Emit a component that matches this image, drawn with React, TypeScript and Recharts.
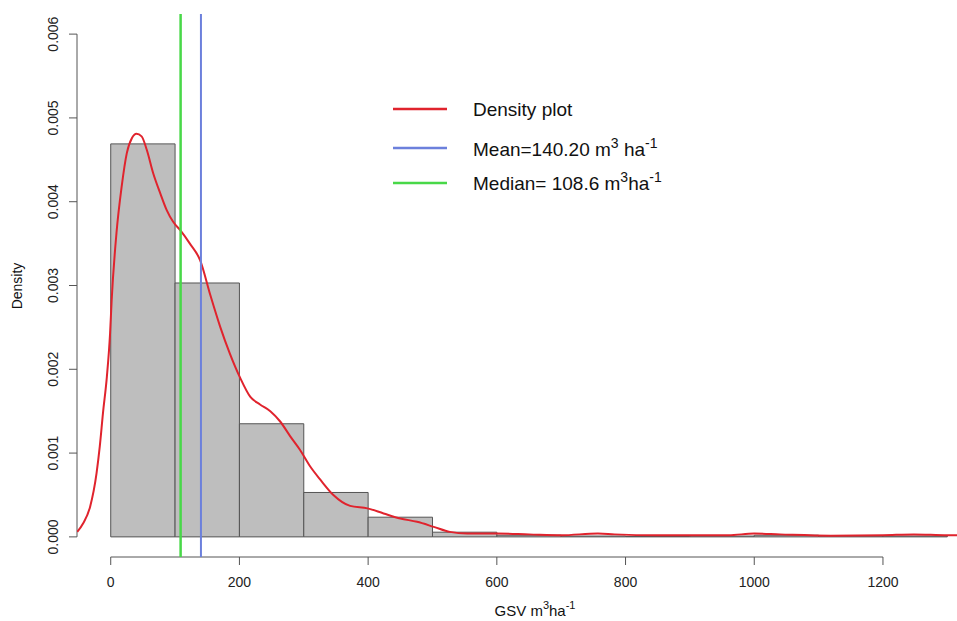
import React from "react";
import {
  ComposedChart,
  Line,
  XAxis,
  YAxis,
  ReferenceArea,
  ReferenceLine,
} from "recharts";

// Histogram of GSV (density scale) with kernel density curve, mean and median lines.

const binStart = [0, 100, 200, 300, 400, 500, 600, 700, 800, 900, 1000, 1100, 1200];
const binWidth = 100;
const binDensity = [
  0.00469, 0.00303, 0.00135, 0.00053, 0.000235, 0.000056, 0.00002, 0.00001, 0.000005,
  0.00001, 0.00002, 0.00001, 0.00001,
];

const densityX = [
  -52, -43, -32, -22, -17, -12, -6, -1, 1.5, 9, 17, 25, 33, 40, 48, 56, 66, 77, 87, 97,
  108, 123, 139, 155, 170, 185, 201, 217, 232, 248, 263, 279, 294, 310, 326, 346, 372,
  399, 424, 450, 476, 502, 527, 554, 600, 650, 700, 757, 783, 850, 915, 960, 1000, 1040,
  1119, 1200, 1248, 1300, 1371,
];
const densityY = [
  0.00006, 0.00016, 0.00036, 0.00076, 0.00108, 0.00148, 0.00191, 0.00243, 0.00283,
  0.00363, 0.00418, 0.00458, 0.00476, 0.00481, 0.00478, 0.00462, 0.00434, 0.0041,
  0.0039, 0.00376, 0.00366, 0.0035, 0.0033, 0.00288, 0.00251, 0.00219, 0.0019, 0.00167,
  0.00158, 0.0015, 0.00138, 0.0012, 0.00104, 0.00084, 0.00068, 0.0005, 0.00037, 0.00034,
  0.00028, 0.00022, 0.00018, 0.00012, 0.00006, 0.00004, 0.00004, 0.00003, 0.00002,
  0.00004, 0.00003, 0.00002, 0.00002, 0.00002, 0.00004, 0.00003, 0.000015, 0.00002,
  0.00003, 0.00002, 0.00002,
];

const meanGSV = 140.2;
const medianGSV = 108.6;

const xTicks = [0, 200, 400, 600, 800, 1000, 1200];
const yTicks = [0, 0.001, 0.002, 0.003, 0.004, 0.005, 0.006];

const X_DOMAIN: [number, number] = [-52.4, 1371];
const Y_DOMAIN: [number, number] = [-0.00024, 0.00624];

const RED = "#e0232d";
const BLUE = "#6c80dc";
const GREEN = "#48d848";
const AXIS = "#555555";
const FONT = "'Liberation Sans', Arial, Helvetica, sans-serif";

const curveData = densityX.map((x, i) => ({ x, y: densityY[i] }));

function YTick(props: any) {
  const { x, y, payload } = props;
  return (
    <text
      x={x}
      y={y}
      transform={`rotate(-90, ${x}, ${y})`}
      textAnchor="middle"
      fontSize={14}
      fontFamily={FONT}
      fill="#222"
    >
      {payload.value.toFixed(3)}
    </text>
  );
}

export default function App() {
  return (
    <div
      style={{
        position: "absolute",
        left: 0,
        top: 0,
        width: 957,
        height: 621,
        overflow: "hidden",
        background: "#fff",
      }}
    >
      <ComposedChart
        width={993}
        height={621}
        data={curveData}
        margin={{ top: 14, right: 0, bottom: 0, left: 0 }}
      >
        <XAxis
          type="number"
          dataKey="x"
          domain={X_DOMAIN}
          ticks={xTicks}
          allowDataOverflow
          height={64}
          axisLine={false}
          tickLine={{ stroke: AXIS }}
          tickSize={8}
          tickMargin={12}
          tick={{ fontSize: 14, fontFamily: FONT, fill: "#222" }}
        />
        <YAxis
          type="number"
          domain={Y_DOMAIN}
          ticks={yTicks}
          allowDataOverflow
          width={77}
          axisLine={false}
          tickLine={{ stroke: AXIS }}
          tickSize={8}
          tickMargin={11}
          tick={<YTick />}
        />
        {binStart.map((b, i) => (
          <ReferenceArea
            key={b}
            x1={b}
            x2={b + binWidth}
            y1={0}
            y2={binDensity[i]}
            fill="#bebebe"
            fillOpacity={1}
            stroke={AXIS}
            strokeWidth={1}
            ifOverflow="visible"
          />
        ))}
        <ReferenceLine
          segment={[{ x: X_DOMAIN[0], y: 0 }, { x: X_DOMAIN[0], y: 0.006 }]}
          stroke={AXIS}
          strokeWidth={1}
          ifOverflow="visible"
        />
        <ReferenceLine
          segment={[{ x: 0, y: Y_DOMAIN[0] }, { x: 1200, y: Y_DOMAIN[0] }]}
          stroke={AXIS}
          strokeWidth={1}
          ifOverflow="visible"
        />
        <Line
          type="monotone"
          dataKey="y"
          stroke={RED}
          strokeWidth={2}
          dot={false}
          activeDot={false}
          isAnimationActive={false}
        />
        <ReferenceLine x={medianGSV} stroke={GREEN} strokeWidth={2.5} />
        <ReferenceLine x={meanGSV} stroke={BLUE} strokeWidth={2} />
      </ComposedChart>

      <svg
        width={957}
        height={621}
        style={{ position: "absolute", left: 0, top: 0, pointerEvents: "none" }}
        fontFamily={FONT}
      >
        {/* legend */}
        <line x1={393} x2={447} y1={109} y2={109} stroke={RED} strokeWidth={2.5} />
        <line x1={393} x2={447} y1={148} y2={148} stroke={BLUE} strokeWidth={2.5} />
        <line x1={393} x2={447} y1={183} y2={183} stroke={GREEN} strokeWidth={2.5} />
        <text x={473} y={116} fontSize={19} fill="#111">
          Density plot
        </text>
        <text x={473} y={156} fontSize={19} fill="#111">
          Mean=140.20 m
          <tspan fontSize={14} dy={-8}>3</tspan>
          <tspan dy={8}> ha</tspan>
          <tspan fontSize={14} dy={-8}>-1</tspan>
        </text>
        <text x={473} y={190} fontSize={19} fill="#111">
          Median= 108.6 m
          <tspan fontSize={14} dy={-8}>3</tspan>
          <tspan dy={8}>ha</tspan>
          <tspan fontSize={14} dy={-8}>-1</tspan>
        </text>

        {/* axis titles */}
        <text
          x={22}
          y={286}
          transform="rotate(-90, 22, 286)"
          textAnchor="middle"
          fontSize={14}
          fill="#111"
        >
          Density
        </text>
        <text x={535} y={616} textAnchor="middle" fontSize={15} fill="#111">
          GSV m
          <tspan fontSize={11} dy={-7}>3</tspan>
          <tspan dy={7}>ha</tspan>
          <tspan fontSize={11} dy={-7}>-1</tspan>
        </text>
      </svg>
    </div>
  );
}
